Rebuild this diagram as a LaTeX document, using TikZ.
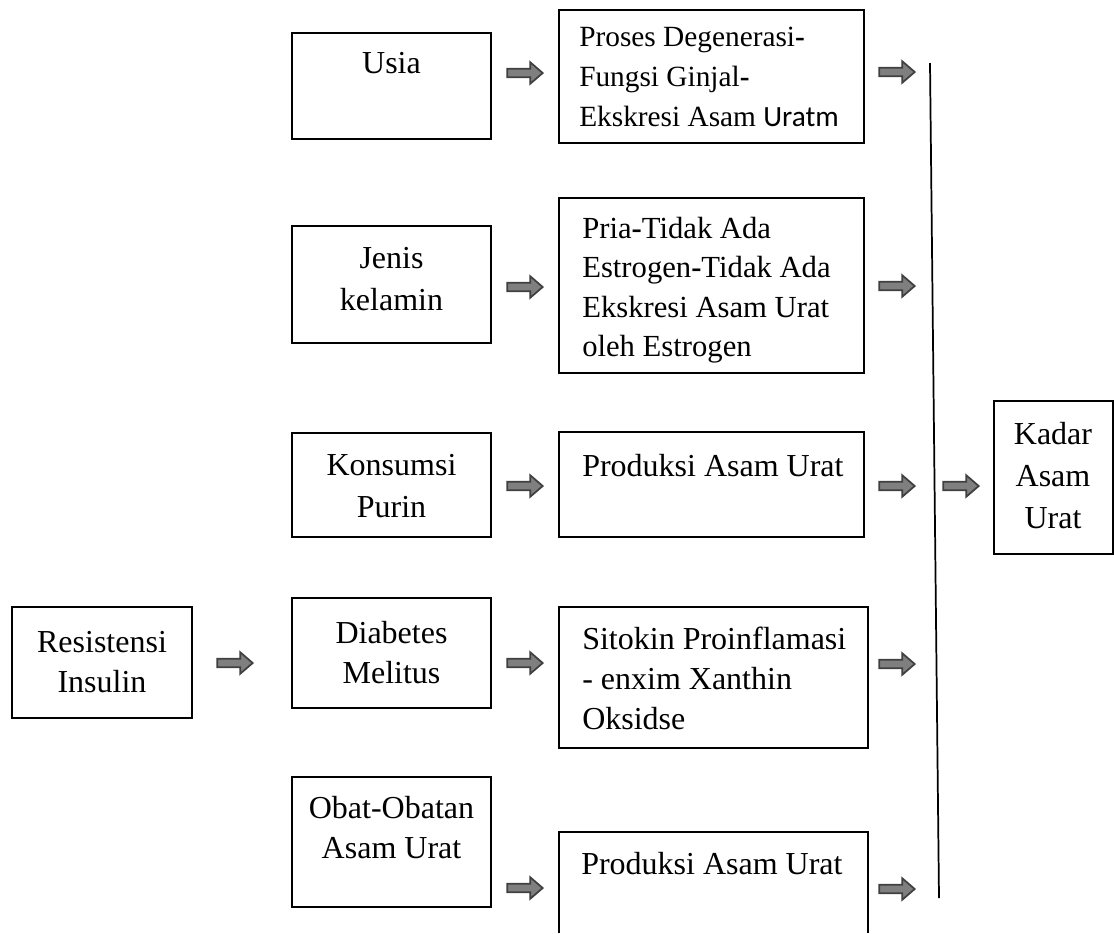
\documentclass[tikz,border=0pt]{standalone}
\usepackage{fontspec}
\setmainfont{Liberation Serif}
\newfontfamily\carlito{Carlito}
\definecolor{arrowfill}{HTML}{7F7F7F}
\definecolor{arrowline}{HTML}{404040}
\newcommand\mybox[5]{\node[box, minimum width={(#4-#2)*0.75pt}, minimum height={(#5-#3)*0.75pt}] (#1) at (#2,#3) {};}
\begin{document}
\begin{tikzpicture}[x=0.75pt,y=-0.75pt,
  box/.style={draw=black, line width=1.3pt, inner sep=0pt, outer sep=0pt, anchor=north west},
  ctext/.style={anchor=north, inner sep=0pt, align=center, font=\fontsize{24}{30}\selectfont},
  ctextw/.style={anchor=north, inner sep=0pt, align=center, font=\fontsize{24}{31.5}\selectfont},
  ltext/.style={anchor=north west, inner sep=0pt, align=left, font=\fontsize{24}{30}\selectfont},
  barrow/.pic={\draw[draw=arrowline, fill=arrowfill, line width=1.3pt, line join=miter]
      (-17.7,-4.3) -- (5.3,-4.3) -- (5.3,-10.7) -- (17.7,0) -- (5.3,10.7) -- (5.3,4.3) -- (-17.7,4.3) -- cycle;},
  vline/.style={draw=black, line width=1.3pt}]
\useasboundingbox (0,0) rectangle (1114,933);
\fill[white] (0,0) rectangle (1114,933);
% boxes
\mybox{usia}{292}{33}{491}{139}
\mybox{proses}{559}{10}{864}{143}
\mybox{jenis}{292}{226}{491}{343}
\mybox{pria}{559}{198}{864}{373}
\mybox{kons}{292}{433}{491}{537}
\mybox{prod}{559}{432}{864}{537}
\mybox{kadar}{994}{401}{1113}{554}
\mybox{resist}{12}{607}{192}{718}
\mybox{diab}{292}{598}{491}{708}
\mybox{sitokin}{559}{607}{868}{748}
\mybox{obat}{292}{777}{491}{907}
\node[box, draw=none, minimum width={(868-559)*0.75pt}, minimum height={(933-832)*0.75pt}] (prodb) at (559,832) {};
\draw[line width=1.3pt] (prodb.south west) |- (prodb.north east) -- (prodb.south east);
% texts
\node[ctext] (tusia) at (391.5,52) {Usia};
\node[ctextw] (tjenis) at (391.5,247) {Jenis\\kelamin};
\node[ctextw] (tkons) at (391.5,454) {Konsumsi\\Purin};
\node[ctext] (tdiab) at (391.5,621) {Diabetes\\Melitus};
\node[ctext] (tobat) at (391.5,796) {Obat-Obatan\\Asam Urat};
\node[ctext] (tresist) at (102,631) {Resistensi\\Insulin};
\node[ctextw] (tkadar) at (1053,422) {Kadar\\Asam\\Urat};
\node[ltext, font=\fontsize{22}{30}\selectfont] (tproses) at (579,27) {Proses Degenerasi\textbf{-}\\Fungsi Ginjal\textbf{-}\\Ekskresi Asam {\carlito Uratm}};
\node[ltext, font=\fontsize{23}{29.5}\selectfont] (tpria) at (582,217) {Pria\textbf{-}Tidak Ada\\Estrogen\textbf{-}Tidak Ada\\Ekskresi Asam Urat\\oleh Estrogen};
\node[ltext] (tprod) at (582,454) {Produksi Asam Urat};
\node[ltext] (tsitokin) at (582,627) {Sitokin Proinflamasi\\- enxim Xanthin\\Oksidse};
\node[ltext] (tprodb) at (581,852) {Produksi Asam Urat};
% vertical collector line
\coordinate (vtop) at (930,63);
\coordinate (vbot) at (939,898);
\draw[vline] (vtop) -- (vbot);
% block arrows
\pic (a1) at (525,73) {barrow};
\pic (a2) at (897,72) {barrow};
\pic (a3) at (525,287) {barrow};
\pic (a4) at (897,286) {barrow};
\pic (a5) at (525,486) {barrow};
\pic (a6) at (897,486) {barrow};
\pic (a7) at (961,486) {barrow};
\pic (a8) at (235,663) {barrow};
\pic (a9) at (525,663) {barrow};
\pic (a10) at (897,664) {barrow};
\pic (a11) at (525,888) {barrow};
\pic (a12) at (897,889) {barrow};
\end{tikzpicture}
\end{document}
